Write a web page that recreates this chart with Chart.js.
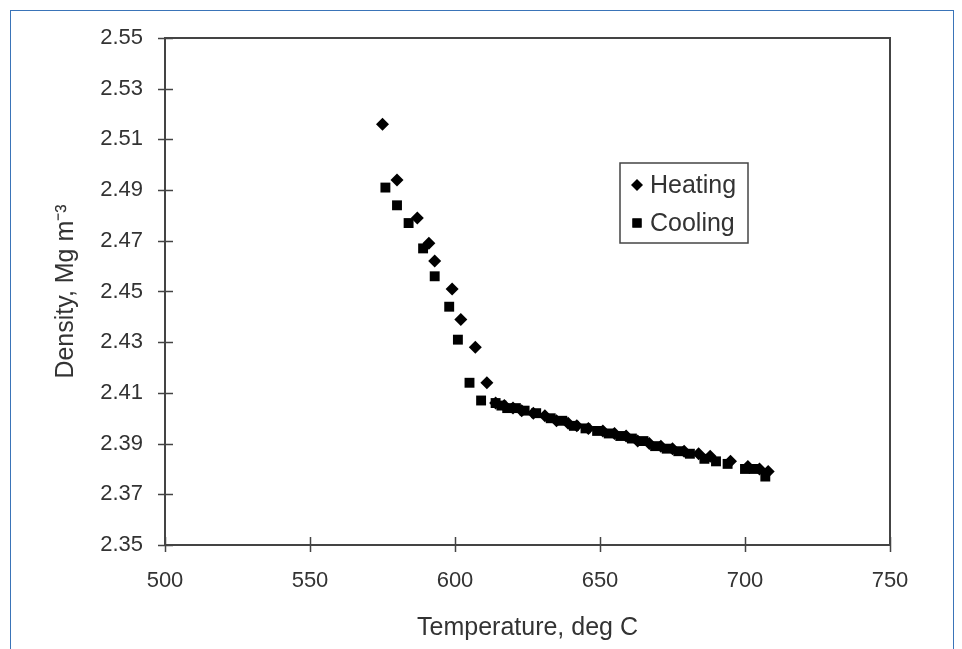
<!DOCTYPE html>
<html>
<head>
<meta charset="utf-8">
<script src="https://cdn.jsdelivr.net/npm/chart.js@4.4.1/dist/chart.umd.min.js"></script>
<style>
  html, body { margin: 0; padding: 0; background: #fff; }
  #frame { position: absolute; left: 10px; top: 10px; width: 942px; height: 700px; border: 1px solid #3a74b8; }
  #wrap { position: absolute; left: 0; top: 0; width: 962px; height: 649px; }
</style>
</head>
<body>
<div id="frame"></div>
<div id="wrap"><canvas id="chart" width="962" height="649"></canvas></div>
<script>
// values
const heatingTemp = [575, 580, 587, 591, 593, 599, 602, 607, 611,
  614, 617, 620, 623, 627, 631, 635, 639, 642, 646, 651, 655, 659, 663,
  667, 671, 675, 679, 684, 688, 695, 701, 705, 708];
const heatingDensity = [2.516, 2.494, 2.479, 2.469, 2.462, 2.451, 2.439, 2.428, 2.414,
  2.406, 2.405, 2.404, 2.403, 2.402, 2.401, 2.399, 2.398, 2.397, 2.396, 2.395, 2.394, 2.393, 2.391,
  2.390, 2.389, 2.388, 2.387, 2.386, 2.385, 2.383, 2.381, 2.380, 2.379];

const coolingTemp = [576, 580, 584, 589, 593, 598, 601, 605, 609,
  614, 616, 618, 621, 624, 628, 633, 637, 641, 645, 649, 653, 657, 661,
  665, 669, 673, 677, 681, 686, 690, 694, 700, 703, 707];
const coolingDensity = [2.491, 2.484, 2.477, 2.467, 2.456, 2.444, 2.431, 2.414, 2.407,
  2.406, 2.405, 2.404, 2.404, 2.403, 2.402, 2.400, 2.399, 2.397, 2.396, 2.395, 2.394, 2.393, 2.392,
  2.391, 2.389, 2.388, 2.387, 2.386, 2.384, 2.383, 2.382, 2.380, 2.380, 2.377];

const xTicks = [500, 550, 600, 650, 700, 750];
const yTicks = [2.35, 2.37, 2.39, 2.41, 2.43, 2.45, 2.47, 2.49, 2.51, 2.53, 2.55];

const textColor = '#333';
const axisColor = '#444';
const family = 'Liberation Sans, Arial, sans-serif';
const tickFont = { family: family, size: 22 };
const titleFont = { family: family, size: 25 };

function toPoints(xs, ys) {
    return xs.map((x, i) => ({ x: x, y: ys[i] }));
}

// plot box + ticks that cross the axis lines
const boxPlugin = {
    id: 'box',
    beforeDatasetsDraw(chart) {
        const ctx = chart.ctx;
        const a = chart.chartArea;
        const xs = chart.scales.x;
        const ys = chart.scales.y;
        ctx.save();
        ctx.strokeStyle = axisColor;
        ctx.lineWidth = 2;
        ctx.strokeRect(a.left, a.top, a.right - a.left, a.bottom - a.top);
        ctx.lineWidth = 1.5;
        ctx.beginPath();
        yTicks.forEach(v => {
            const py = Math.round(ys.getPixelForValue(v)) + 0.5;
            ctx.moveTo(a.left - 7, py);
            ctx.lineTo(a.left + 8, py);
        });
        xTicks.forEach(v => {
            const px = Math.round(xs.getPixelForValue(v)) + 0.5;
            ctx.moveTo(px, a.bottom - 8);
            ctx.lineTo(px, a.bottom + 7);
        });
        ctx.stroke();
        ctx.restore();
    },
    afterDraw(chart) {
        // legend box inside the plot
        const ctx = chart.ctx;
        const bx = 620, by = 163, bw = 128, bh = 80;
        ctx.save();
        ctx.fillStyle = '#fff';
        ctx.fillRect(bx, by, bw, bh);
        ctx.strokeStyle = '#444';
        ctx.lineWidth = 1.5;
        ctx.strokeRect(bx, by, bw, bh);
        chart.data.datasets.forEach((ds, i) => {
            const cy = by + 22 + i * 38;
            Chart.helpers.drawPoint(ctx, {
                pointStyle: ds.pointStyle,
                radius: ds.pointRadius - 0.5,
                borderWidth: 0
            }, bx + 17, cy);
            ctx.fillStyle = '#000';
            ctx.fill();
            ctx.fillStyle = textColor;
            ctx.font = titleFont.size + 'px ' + family;
            ctx.textBaseline = 'middle';
            ctx.fillText(ds.label, bx + 30, cy + 1);
        });
        ctx.restore();
    }
};

new Chart(document.getElementById('chart'), {
    type: 'scatter',
    data: {
        datasets: [{
            label: 'Heating',
            data: toPoints(heatingTemp, heatingDensity),
            pointStyle: 'rectRot',
            pointRadius: 6.5,
            backgroundColor: '#000',
            borderColor: '#000',
            borderWidth: 0
        }, {
            label: 'Cooling',
            data: toPoints(coolingTemp, coolingDensity),
            pointStyle: 'rect',
            pointRadius: 7,
            backgroundColor: '#000',
            borderColor: '#000',
            borderWidth: 0
        }]
    },
    options: {
        responsive: false,
        animation: false,
        layout: { padding: { top: 38, right: 72, left: 51, bottom: 0 } },
        plugins: {
            legend: { display: false },
            tooltip: { enabled: false }
        },
        scales: {
            x: {
                type: 'linear',
                min: 500,
                max: 750,
                afterBuildTicks: s => { s.ticks = xTicks.map(v => ({ value: v })); },
                afterFit: s => { s.height = 104; },
                grid: { display: false, drawTicks: false },
                border: { display: false },
                ticks: { color: textColor, font: tickFont, padding: 23, maxRotation: 0 },
                title: { display: true, text: 'Temperature, deg C', color: textColor, font: titleFont, padding: { top: 4, bottom: 6 } }
            },
            y: {
                type: 'linear',
                min: 2.35,
                max: 2.55,
                afterBuildTicks: s => { s.ticks = yTicks.map(v => ({ value: v })); },
                afterFit: s => { s.width = 114; },
                grid: { display: false, drawTicks: false },
                border: { display: false },
                ticks: { color: textColor, font: tickFont, padding: 22, callback: v => v.toFixed(2) },
                title: { display: true, text: 'Density, Mg m\u207B\u00B3', color: textColor, font: titleFont, padding: { top: 0, bottom: 4 } }
            }
        }
    },
    plugins: [boxPlugin]
});
</script>
</body>
</html>
